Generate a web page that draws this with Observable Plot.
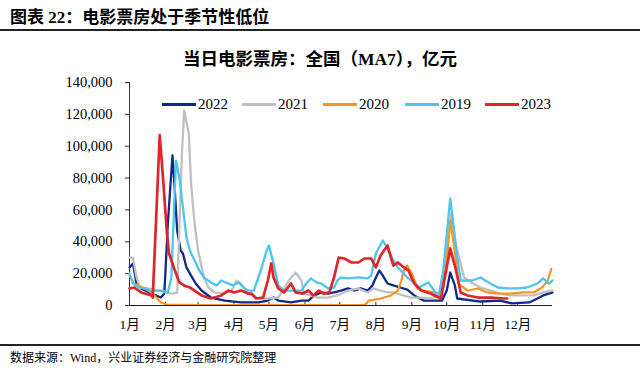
<!DOCTYPE html>
<html><head><meta charset="utf-8">
<script src="https://cdn.jsdelivr.net/npm/d3@7"></script>
<script src="https://cdn.jsdelivr.net/npm/@observablehq/plot@0.6"></script>
<style>
body{margin:0;background:#fff;}
#wrap{position:relative;width:640px;height:368px;overflow:hidden;font-family:"Liberation Serif","Noto Sans CJK SC",serif;color:#000;}
#hdr{position:absolute;left:10px;top:3px;font-weight:bold;font-size:17px;white-space:nowrap;}
#hline{position:absolute;left:0;top:29px;width:640px;height:2px;background:#222;}
#ctitle{position:absolute;left:0;width:640px;top:45px;text-align:center;font-weight:bold;font-size:17.5px;white-space:nowrap;}
#chart{position:absolute;left:0;top:62px;}
.lg{position:absolute;top:95px;height:18px;font-size:15px;line-height:18px;white-space:nowrap;}
.lg i{display:inline-block;width:34px;height:2.5px;vertical-align:middle;margin-right:2px;position:relative;top:-1px;}
#fline{position:absolute;left:0;top:344px;width:640px;height:1.5px;background:#222;}
#src{position:absolute;left:10px;top:348px;font-size:12px;white-space:nowrap;}
</style></head>
<body>
<div id="wrap">
  <div id="hdr">图表 22：电影票房处于季节性低位</div>
  <div id="hline"></div>
  <div id="ctitle">当日电影票房：全国（MA7），亿元</div>
  <div id="chart"></div>
  <div id="legend"></div>
  <div id="fline"></div>
  <div id="src">数据来源：Wind，兴业证券经济与金融研究院整理</div>
</div>
<script>
// ---- data ----
const monthLabels = ["1月","2月","3月","4月","5月","6月","7月","8月","9月","10月","11月","12月"];
const monthStartDays = [1,32,60,91,121,152,182,213,244,274,305,335];
const yTicks = [0,20000,40000,60000,80000,100000,120000,140000];
const seriesNames = ["2022","2021","2020","2019","2023"];

// [day of year, value]
const s2022 = [[1,23900],[4,26400],[7,13800],[11,10700],[20,7500],[28,5000],[31,7500],[34,51500],[38,94200],[40,72200],[42,47100],[45,34500],[47,32700],[50,23900],[54,18800],[58,13800],[63,9400],[71,5000],[83,3100],[97,1900],[112,1900],[120,3100],[125,5000],[129,3100],[140,1900],[149,3100],[155,3100],[160,6300],[166,8200],[172,7500],[177,8200],[183,9400],[189,10700],[194,9400],[200,10700],[206,9400],[210,12600],[213,17600],[216,22000],[219,18800],[223,13800],[228,12600],[234,11300],[240,10000],[246,6300],[254,3100],[260,3100],[270,3100],[274,9400],[277,20700],[281,12600],[283,4400],[303,2500],[320,3100],[330,1300],[345,1900],[352,4400],[357,6300],[365,8200]];
const s2021 = [[1,30100],[4,30100],[7,17600],[10,11300],[17,10700],[26,9400],[37,7500],[42,8000],[46,92900],[48,122400],[52,108000],[54,76300],[57,51500],[60,34500],[65,17600],[69,11300],[74,8200],[83,7500],[89,9400],[93,15700],[97,13800],[103,7500],[112,4400],[120,4400],[129,5000],[134,10700],[140,17600],[144,20700],[149,15700],[151,7500],[163,5000],[172,5000],[180,6300],[189,9400],[198,10700],[206,8200],[211,10700],[217,9400],[223,8200],[228,8200],[234,6900],[243,5000],[252,5000],[260,4400],[267,6300],[273,26400],[278,58000],[282,37700],[289,17600],[295,14500],[303,11300],[312,9400],[320,7500],[329,6300],[337,6300],[349,6300],[357,8200],[365,9400]];
const s2020 = [[1,18800],[5,13800],[14,10700],[20,8200],[24,5000],[28,1900],[33,600],[60,300],[100,300],[150,300],[200,300],[204,600],[207,3100],[217,4400],[226,6300],[232,9400],[235,15700],[237,22000],[240,25000],[244,20000],[249,10700],[254,9400],[263,8200],[269,7500],[275,36400],[277,53400],[282,28300],[284,13800],[292,9400],[301,10700],[309,8200],[318,7500],[329,7500],[340,8200],[349,8200],[356,11300],[361,15700],[364,23000]];
const s2019 = [[1,20100],[4,13800],[9,11300],[14,10700],[20,9400],[28,9400],[34,8200],[37,17600],[41,91000],[44,79800],[47,61500],[50,42700],[53,34500],[57,28300],[61,22000],[65,17600],[71,14500],[76,12600],[80,15700],[86,13800],[90,12600],[95,14500],[99,11300],[103,9400],[108,9400],[114,22000],[119,34500],[121,37700],[125,26400],[129,12600],[134,9400],[149,9400],[153,13800],[157,17000],[162,14500],[166,13800],[172,10700],[177,11300],[180,15700],[183,17600],[189,17000],[198,17600],[206,17000],[209,18800],[213,32700],[219,40800],[223,35800],[228,28300],[232,23900],[237,20100],[241,17000],[247,13800],[250,11300],[258,14500],[262,10700],[267,5000],[271,22000],[277,67200],[282,36400],[286,15700],[292,15700],[296,15700],[303,17600],[310,14500],[318,11300],[326,10700],[335,10700],[343,11300],[352,13800],[357,17000],[362,13800],[365,15700]];
const s2023 = [[1,10700],[5,11300],[11,8200],[20,6300],[21,5000],[27,107000],[30,78500],[33,47100],[35,32700],[40,22000],[44,14500],[48,12600],[53,11300],[57,9400],[63,6300],[71,4400],[80,6300],[86,9400],[91,8200],[97,9400],[103,7500],[106,7500],[110,4400],[116,5000],[120,15700],[123,26400],[125,17600],[129,10700],[134,8200],[140,13800],[144,8200],[150,7500],[155,9400],[159,6300],[164,9400],[168,7500],[173,8200],[177,17600],[181,30100],[186,29500],[192,27000],[198,27000],[203,29500],[209,29500],[213,23900],[217,31400],[223,37700],[228,25100],[232,27000],[237,23900],[241,22000],[246,13800],[252,9400],[260,7500],[269,4400],[273,20100],[277,35800],[282,22000],[286,8200],[292,6300],[301,5000],[312,5000],[323,4400],[326,4400]];

// ---- styles ----
const colors = {"2022":"#0f2a88","2021":"#c0c0c0","2020":"#f7961f","2019":"#4ec4f2","2023":"#e0242a"};
const widths = {"2022":2.3,"2021":2.3,"2020":2.2,"2019":2.3,"2023":2.7};
const seriesData = {"2022":s2022,"2021":s2021,"2020":s2020,"2019":s2019,"2023":s2023};

const fmt = d3.format(",");
const lineMarks = seriesNames.map(name =>
  Plot.line(seriesData[name].map(([day, value]) => ({day, value})), {
    x: "day", y: "value", stroke: colors[name], strokeWidth: widths[name],
    strokeLinejoin: "round", strokeLinecap: "round"
  })
);

const chart = Plot.plot({
  width: 640, height: 280,
  marginLeft: 129, marginRight: 88, marginTop: 20, marginBottom: 37,
  x: {domain: [1, 365]},
  y: {domain: [0, 140000]},
  style: {fontFamily: '"Liberation Serif","Noto Sans CJK SC",serif', fontSize: "14px", color: "#000", background: "transparent", overflow: "visible"},
  marks: [
    Plot.axisY({ticks: yTicks, tickFormat: fmt, tickSize: 4, tickPadding: 13, label: null, fontSize: 14.5, stroke: "#333"}),
    Plot.axisX({ticks: monthStartDays, tickFormat: d => monthLabels[monthStartDays.indexOf(d)], tickSize: 0, tickPadding: 14, label: null, fontSize: 13.5}),
    Plot.ruleX(monthStartDays, {x: d => d, y1: 0, y2: 2000, stroke: "#333", strokeWidth: 1}),
    Plot.ruleX([1], {y1: 0, y2: 140000, stroke: "#333", strokeWidth: 1}),
    ...lineMarks,
    Plot.ruleY([0], {stroke: "#222", strokeWidth: 1.2})
  ]
});
document.getElementById("chart").appendChild(chart);

// legend
const legendLeft = [162, 242, 323, 405, 485];
const lg = document.getElementById("legend");
seriesNames.forEach((name, i) => {
  const el = document.createElement("div");
  el.className = "lg";
  el.style.left = legendLeft[i] + "px";
  el.innerHTML = `<i style="background:${colors[name]}"></i>${name}`;
  lg.appendChild(el);
});
</script>
</body></html>
